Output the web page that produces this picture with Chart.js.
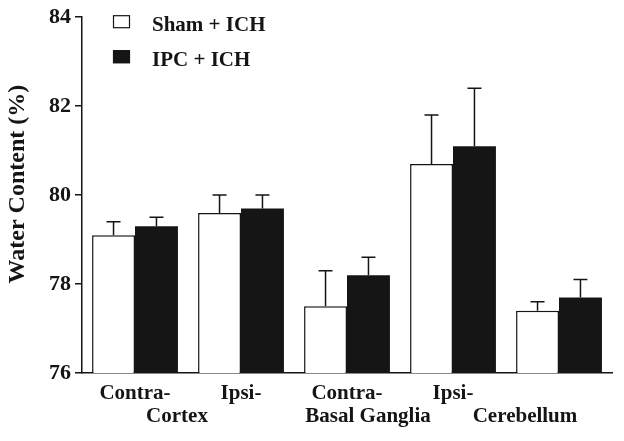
<!DOCTYPE html>
<html>
<head>
<meta charset="utf-8">
<script src="https://cdn.jsdelivr.net/npm/chart.js@4/dist/chart.umd.min.js"></script>
<style>
  html, body { margin: 0; padding: 0; background: #fff; }
  #wrap { width: 624px; height: 441px; }
</style>
</head>
<body>
<div id="wrap"><canvas id="chart" width="624" height="441"></canvas></div>
<script>
// ---- data ----
const categories = ['Contra-Cortex', 'Ipsi-Cortex', 'Contra-Basal Ganglia', 'Ipsi-Basal Ganglia', 'Cerebellum'];
const sideLabels = ['Contra-', 'Ipsi-', 'Contra-', 'Ipsi-', ''];
const regionLabels = ['Cortex', 'Basal Ganglia', 'Cerebellum'];
const regionSpans = [[0, 1], [2, 3], [4, 4]];

const shamMeans = [79.1, 79.6, 77.5, 80.7, 77.4];
const shamErr   = [0.3, 0.4, 0.8, 1.1, 0.2];
const ipcMeans  = [79.3, 79.7, 78.2, 81.1, 77.7];
const ipcErr    = [0.2, 0.3, 0.4, 1.3, 0.4];

const yTicks = [76, 78, 80, 82, 84];
const yTitle = 'Water Content (%)';

const INK = '#151515';
const FONT = "'Liberation Serif', 'Times New Roman', serif";

// upper-only error bars
const errorBars = {
  id: 'errorBars',
  afterDatasetsDraw(chart) {
    const { ctx, scales: { y } } = chart;
    const errs = [shamErr, ipcErr];
    ctx.save();
    ctx.strokeStyle = INK;
    ctx.lineWidth = 1.5;
    chart.data.datasets.forEach((ds, i) => {
      const meta = chart.getDatasetMeta(i);
      meta.data.forEach((bar, j) => {
        const top = y.getPixelForValue(ds.data[j] + errs[i][j]);
        ctx.beginPath();
        ctx.moveTo(bar.x, bar.y);
        ctx.lineTo(bar.x, top);
        ctx.moveTo(bar.x - 7, top);
        ctx.lineTo(bar.x + 7, top);
        ctx.stroke();
      });
    });
    ctx.restore();
  }
};

// second line of the x labels (region names) + y title
const extraText = {
  id: 'extraText',
  afterDraw(chart, args, opts) {
    const { ctx, chartArea, scales: { x } } = chart;
    ctx.save();
    ctx.font = 'bold 21px ' + FONT;
    ctx.fillStyle = INK;
    ctx.textAlign = 'center';
    ctx.textBaseline = 'alphabetic';
    regionLabels.forEach((name, k) => {
      const [a, b] = regionSpans[k];
      const cx = (x.getPixelForValue(a) + x.getPixelForValue(b)) / 2 + opts.shift[k];
      ctx.fillText(name, cx, chartArea.bottom + 49);
    });

    ctx.translate(18, (chartArea.top + chartArea.bottom) / 2 - 11);
    ctx.rotate(-Math.PI / 2);
    ctx.font = 'bold 24px ' + FONT;
    ctx.textBaseline = 'middle';
    ctx.fillText(yTitle, 0, 0);
    ctx.restore();
  }
};

// legend at the top left inside the plot
const boxLegend = {
  id: 'boxLegend',
  afterDraw(chart) {
    const { ctx, chartArea } = chart;
    ctx.save();
    ctx.font = 'bold 21px ' + FONT;
    ctx.textBaseline = 'middle';
    chart.data.datasets.forEach((ds, i) => {
      const bx = chartArea.left + 31;
      const by = chartArea.top - 2 + i * 35;
      ctx.fillStyle = ds.backgroundColor;
      ctx.fillRect(bx, by, 17, 13);
      ctx.strokeStyle = INK;
      ctx.lineWidth = 1.2;
      ctx.strokeRect(bx + 0.5, by + 0.5, 16, 12);
      ctx.fillStyle = INK;
      ctx.fillText(ds.label, bx + 39, by + 10);
    });
    ctx.restore();
  }
};

new Chart(document.getElementById('chart'), {
  type: 'bar',
  data: {
    labels: categories,
    datasets: [
      { label: 'Sham + ICH', data: shamMeans, backgroundColor: '#ffffff', borderColor: INK, borderWidth: 1.5, borderSkipped: 'bottom' },
      { label: 'IPC + ICH', data: ipcMeans, backgroundColor: INK, borderColor: INK, borderWidth: 0 }
    ]
  },
  options: {
    responsive: false,
    animation: false,
    layout: { padding: { top: 14, right: 12, left: 0, bottom: 0 } },
    datasets: { bar: { categoryPercentage: 0.81, barPercentage: 1.0 } },
    plugins: {
      legend: { display: false },
      tooltip: { enabled: false },
      extraText: { shift: [-11, -32, -34] }
    },
    scales: {
      x: {
        grid: { display: false },
        border: { display: true, color: INK, width: 1.5 },
        ticks: {
          color: INK,
          font: { family: FONT, size: 21, weight: 'bold' },
          padding: 0,
          maxRotation: 0,
          autoSkip: false,
          callback: (v, i) => sideLabels[i]
        },
        afterFit: s => { s.height = 68; }
      },
      y: {
        min: yTicks[0],
        max: yTicks[yTicks.length - 1],
        afterBuildTicks: s => { s.ticks = yTicks.map(v => ({ value: v })); },
        grid: { display: true, drawOnChartArea: false, drawTicks: true, tickLength: 7, color: INK, lineWidth: 1.5 },
        border: { display: true, color: INK, width: 1.5 },
        ticks: {
          color: INK,
          font: { family: FONT, size: 22, weight: 'bold' },
          padding: 4
        },
        afterFit: s => { s.width = 82; }
      }
    }
  },
  plugins: [errorBars, extraText, boxLegend]
});
</script>
</body>
</html>
